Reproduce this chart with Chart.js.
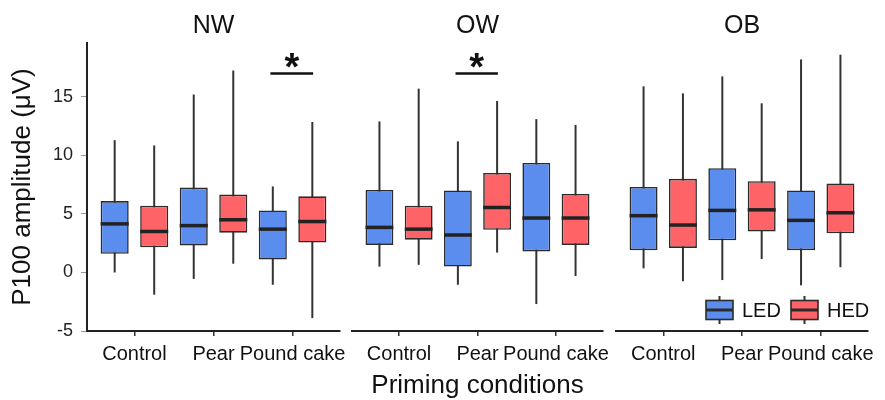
<!DOCTYPE html>
<html><head><meta charset="utf-8">
<script src="https://cdn.jsdelivr.net/npm/chart.js@4.4.1/dist/chart.umd.min.js"></script>
<style>
html,body{margin:0;padding:0;background:#fff}
#wrap{position:relative;width:885px;height:400px}
canvas{position:absolute;left:0;top:0}
</style></head><body>
<div id="wrap">
<canvas id="p0" width="885" height="400"></canvas>
<canvas id="p1" width="885" height="400"></canvas>
<canvas id="p2" width="885" height="400"></canvas>
</div>
<script>
const panels=['NW','OW','OB'];
const categories=['Control','Pear','Pound cake'];
const yTicks=[-5,0,5,10,15];
// each box: [whisker low, q1, median, q3, whisker high]
const nwLED=[[0,1.6,4.15,6.1,11.3],[-0.55,2.3,4.0,7.25,15.2],[-1.05,1.1,3.7,5.3,7.35]];
const nwHED=[[-1.9,2.15,3.5,5.7,10.85],[0.75,3.4,4.5,6.65,17.25],[-3.9,2.55,4.35,6.5,12.85]];
const owLED=[[0.5,2.35,3.85,7.05,12.9],[-1.05,0.5,3.2,7.0,11.2],[-2.7,1.8,4.65,9.35,13.1]];
const owHED=[[0.65,2.8,3.7,5.7,15.7],[1.7,3.65,5.55,8.5,14.65],[-0.3,2.35,4.65,6.7,12.6]];
const obLED=[[0.35,1.9,4.85,7.3,15.9],[-0.65,2.75,5.3,8.9,16.75],[-1.1,1.9,4.45,7.0,18.2]];
const obHED=[[-0.75,2.1,4.05,8.0,15.3],[1.15,3.5,5.35,7.8,14.45],[0.45,3.35,5.1,7.6,18.6]];
const ledSeries=[nwLED,owLED,obLED];
const hedSeries=[nwHED,owHED,obHED];
// significance bar: category index (1-based) per panel, or null
const sigCats=[3,2,null];
const sigLevel=17;

const FONT="'Liberation Sans', Arial, sans-serif";
Chart.defaults.font.family=FONT;
const BLUE='#5b8def', RED='#fe6368', EDGE='#2b2b2b';
const areas=[[87,340],[352,603],[616,868]];
const TOP=43;

const boxPlugin={
  id:'boxes',
  beforeDatasetsDraw(chart){
    const ctx=chart.ctx, y=chart.scales.y;
    ctx.save();
    ctx.strokeStyle='#333'; ctx.lineWidth=2;
    chart.data.datasets.forEach((ds,d)=>{
      chart.getDatasetMeta(d).data.forEach((bar,i)=>{
        const s=ds.stats[i];
        ctx.beginPath();
        ctx.moveTo(bar.x,y.getPixelForValue(s[0]));
        ctx.lineTo(bar.x,y.getPixelForValue(s[4]));
        ctx.stroke();
      });
    });
    ctx.restore();
  },
  afterDatasetsDraw(chart){
    const ctx=chart.ctx, y=chart.scales.y;
    ctx.save();
    ctx.strokeStyle='#222'; ctx.lineWidth=3.5;
    chart.data.datasets.forEach((ds,d)=>{
      chart.getDatasetMeta(d).data.forEach((bar,i)=>{
        const m=y.getPixelForValue(ds.stats[i][2]);
        ctx.beginPath();
        ctx.moveTo(bar.x-bar.width/2,m);
        ctx.lineTo(bar.x+bar.width/2,m);
        ctx.stroke();
      });
    });
    ctx.restore();
  },
  afterDraw(chart){
    const ctx=chart.ctx, a=chart.chartArea, k=chart.options.panel;
    const x=chart.scales.x, y=chart.scales.y;
    ctx.save();
    ctx.fillStyle='#111'; ctx.textAlign='center'; ctx.textBaseline='middle';
    ctx.font='25px '+FONT;
    ctx.fillText(panels[k],(a.left+a.right)/2,26);
    const c=sigCats[k];
    if(c){
      const yy=y.getPixelForValue(sigLevel);
      ctx.strokeStyle='#111'; ctx.lineWidth=2.5;
      ctx.beginPath();
      ctx.moveTo(x.getPixelForValue(c-0.28),yy);
      ctx.lineTo(x.getPixelForValue(c+0.26),yy);
      ctx.stroke();
      ctx.font='bold 38px '+FONT;
      ctx.fillText('*',x.getPixelForValue(c-0.01),yy-4);
    }
    if(k===2){
      const keys=[['LED',BLUE,706],['HED',RED,791]];
      keys.forEach(([t,col,kx])=>{
        const w=27, h=19, cy=310;
        ctx.strokeStyle='#333'; ctx.lineWidth=2;
        ctx.beginPath(); ctx.moveTo(kx+w/2,cy-14); ctx.lineTo(kx+w/2,cy+14); ctx.stroke();
        ctx.fillStyle=col; ctx.fillRect(kx,cy-h/2,w,h);
        ctx.strokeStyle=EDGE; ctx.lineWidth=1.6; ctx.strokeRect(kx,cy-h/2,w,h);
        ctx.lineWidth=3; ctx.beginPath(); ctx.moveTo(kx,cy); ctx.lineTo(kx+w,cy); ctx.stroke();
        ctx.fillStyle='#111'; ctx.textAlign='left'; ctx.font='20px '+FONT;
        ctx.fillText(t,kx+w+9,cy+1);
      });
    }
    ctx.restore();
  }
};

function makeChart(k){
  const [L,R]=areas[k];
  const toBars=arr=>arr.map((b,i)=>({x:i+1,y:[b[1],b[3]]}));
  return new Chart(document.getElementById('p'+k),{
    type:'bar',
    data:{datasets:[
      {label:'LED',data:toBars(ledSeries[k]),stats:ledSeries[k],backgroundColor:BLUE},
      {label:'HED',data:toBars(hedSeries[k]),stats:hedSeries[k],backgroundColor:RED}
    ]},
    options:{
      panel:k,
      responsive:false, animation:false,
      layout:{padding:{left:k===0?0:L,right:885-R,top:TOP,bottom:0}},
      plugins:{legend:{display:false},tooltip:{enabled:false}},
      datasets:{bar:{categoryPercentage:1,barPercentage:0.71,borderWidth:1.6,borderColor:EDGE,borderSkipped:false}},
      scales:{
        x:{type:'linear',min:0.4,max:3.6,offset:false,bounds:'data',
          afterBuildTicks:s=>{s.ticks=[1,2,3].map(v=>({value:v}));},
          afterFit:s=>{s.height=400-331;},
          grid:{offset:false,drawOnChartArea:false,drawTicks:true,tickLength:5,color:'#333',lineWidth:1.5},
          border:{display:true,color:'#222',width:2},
          ticks:{autoSkip:false,maxRotation:0,minRotation:0,padding:6,color:'#111',font:{size:20},
            callback:v=>categories[v-1]},
          title:{display:k===1,text:'Priming conditions',color:'#111',font:{size:26},padding:{top:0,bottom:-1}}
        },
        y:{type:'linear',min:-5,max:19.6,display:k===0,
          afterBuildTicks:s=>{s.ticks=yTicks.map(v=>({value:v}));},
          afterFit:s=>{if(k===0) s.width=87;},
          grid:{drawOnChartArea:false,drawTicks:true,tickLength:6,color:'#999',lineWidth:1},
          border:{display:true,color:'#222',width:2},
          ticks:{padding:8,color:'#222',font:{size:18}},
          title:{display:true,text:'P100 amplitude (μV)',color:'#111',font:{size:26},padding:{top:7,bottom:0}}
        }
      }
    },
    plugins:[boxPlugin]
  });
}
[0,1,2].forEach(makeChart);
</script>
</body></html>
